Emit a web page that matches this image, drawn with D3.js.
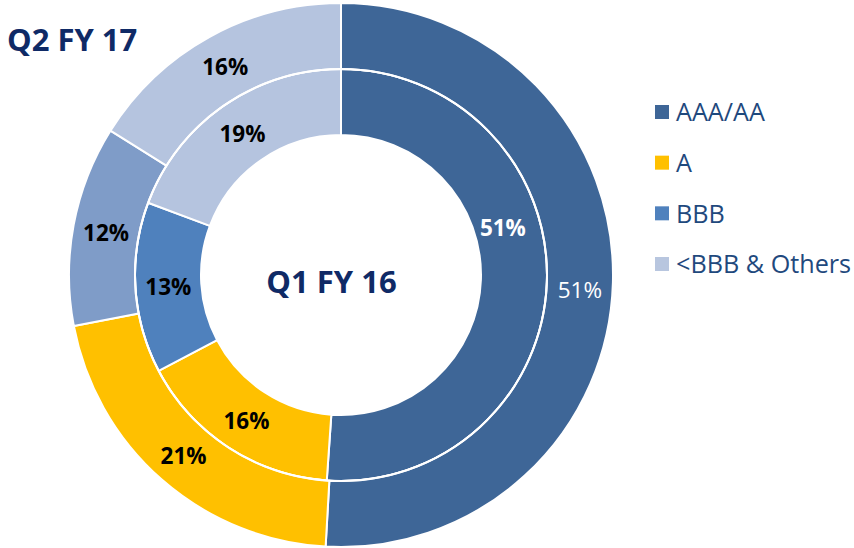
<!DOCTYPE html>
<html><head><meta charset="utf-8">
<script src="https://cdn.jsdelivr.net/npm/d3@7"></script>
<style>body{margin:0;background:#fff}svg{display:block}</style>
</head><body>
<svg id="c" width="854" height="548"></svg>
<script>
const categories = ["AAA/AA", "A", "BBB", "<BBB & Others"];
const innerValues = [51.1, 16.2, 13.4, 19.3]; // Q1 FY 16
const outerValues = [50.9, 21.1, 11.9, 16.1]; // Q2 FY 17
const innerLabels = ["51%", "16%", "13%", "19%"];
const outerLabels = ["51%", "21%", "12%", "16%"];
const innerTitle = "Q1 FY 16";
const outerTitle = "Q2 FY 17";

const innerColors = ["#3E6697", "#FFC000", "#4F81BD", "#B5C4DF"];
const outerColors = ["#3E6697", "#FFC000", "#7F9CC8", "#B5C4DF"];
const legendColors = ["#3E6697", "#FFC000", "#4F81BD", "#B8C6DF"];

const svg = d3.select("#c");
const cx = 341, cy = 275;
const r0 = 140, r1 = 206, r2 = 272;
const FONT = "'Open Sans', sans-serif";
const g = svg.append("g").attr("transform", `translate(${cx},${cy})`);
const pie = d3.pie().sort(null).value(d => d);

const innerArc = d3.arc().innerRadius(r0).outerRadius(r1);
const outerArc = d3.arc().innerRadius(r1).outerRadius(r2);

function ring(values, arc, colors, labels, cls, tweak) {
  const arcs = pie(values);
  g.selectAll("path." + cls).data(arcs).join("path")
    .attr("class", cls)
    .attr("d", arc)
    .attr("fill", (d, i) => colors[i])
    .attr("stroke", "#fff").attr("stroke-width", 2).attr("stroke-linejoin", "round");
  const fs = 22.5;
  g.selectAll("text." + cls).data(arcs).join("text")
    .attr("class", cls)
    .attr("x", (d, i) => arc.centroid(d)[0] + (tweak[i] ? tweak[i][0] : 0))
    .attr("y", (d, i) => arc.centroid(d)[1] + fs * 0.357 + (tweak[i] ? tweak[i][1] : 0) + 1.5)
    .attr("text-anchor", "middle")
    .attr("font-family", FONT)
    .attr("font-size", fs)
    .attr("font-weight", (d, i) => (cls === "outer" && i === 0) ? 400 : 700)
    .attr("fill", (d, i) => i === 0 ? "#fff" : "#000")
    .text((d, i) => labels[i]);
}
ring(innerValues, innerArc, innerColors, innerLabels, "inner", {0: [-11, -55]});
ring(outerValues, outerArc, outerColors, outerLabels, "outer", {0: [0, 7]});

// ring separator
g.append("circle").attr("r", r1).attr("fill", "none").attr("stroke", "#fff").attr("stroke-width", 2);

// titles
svg.append("text").attr("x", 331.5).attr("y", 293).attr("text-anchor", "middle")
  .attr("font-family", FONT).attr("font-weight", 700).attr("font-size", 31)
  .attr("fill", "#0F2A66").text(innerTitle);
svg.append("text").attr("x", 7).attr("y", 51).attr("text-anchor", "start")
  .attr("font-family", FONT).attr("font-weight", 700).attr("font-size", 31)
  .attr("fill", "#0F2A66").text(outerTitle);

// legend
const ly = d3.scalePoint().domain(categories).range([112, 264]);
const lg = svg.append("g").selectAll("g").data(categories).join("g")
  .attr("transform", d => `translate(655,${ly(d)})`);
lg.append("rect").attr("x", 0).attr("y", -7).attr("width", 14).attr("height", 14)
  .attr("fill", (d, i) => legendColors[i]);
lg.append("text").attr("x", 21).attr("y", 9.3).attr("font-family", FONT)
  .attr("font-size", 25.2).attr("fill", "#1F497D").text(d => d);
</script>
</body></html>
